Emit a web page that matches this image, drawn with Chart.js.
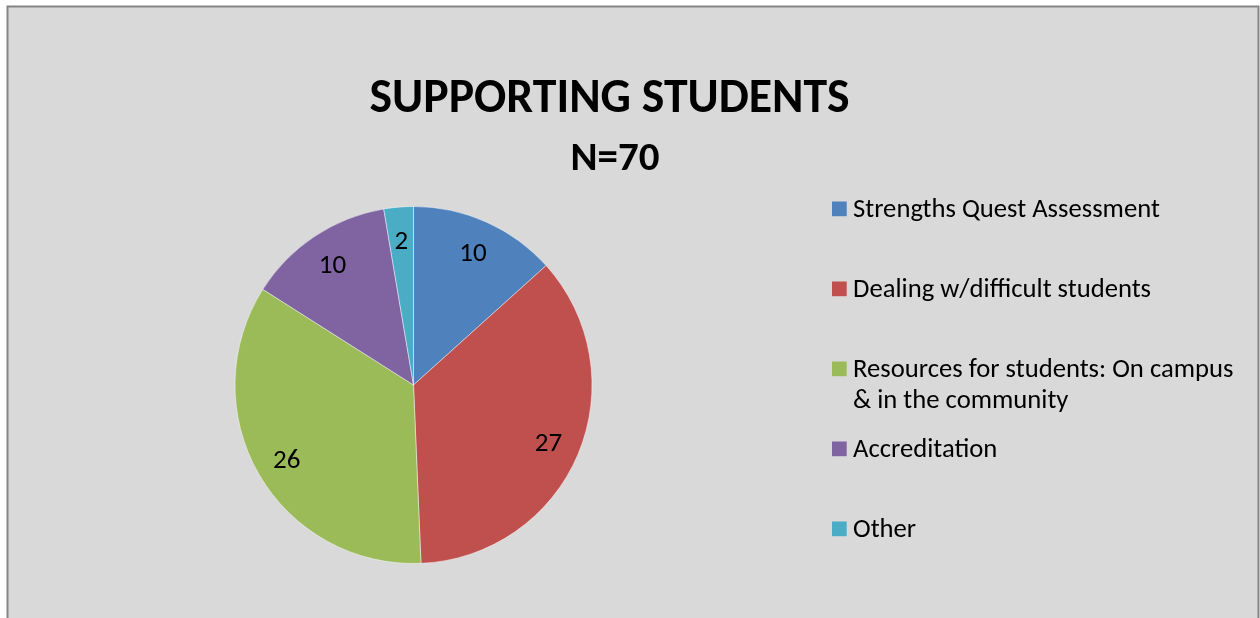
<!DOCTYPE html>
<html>
<head>
<meta charset="utf-8">
<script src="https://cdn.jsdelivr.net/npm/chart.js@4"></script>
<style>
  html, body { margin: 0; padding: 0; background: #ffffff; }
  #wrap { width: 1260px; height: 618px; position: relative; }
</style>
</head>
<body>
<div id="wrap"><canvas id="c" width="1260" height="618"></canvas></div>
<script>
// ---- data ----
const titleText = "SUPPORTING STUDENTS";
const subtitleText = "N=70";
const categories = [
  "Strengths Quest Assessment",
  "Dealing w/difficult students",
  "Resources for students: On campus & in the community",
  "Accreditation",
  "Other"
];
const values = [10, 27, 26, 10, 2];
const sliceColors = ["#4f81bd", "#c0504d", "#9bbb59", "#8064a2", "#4bacc6"];

// ---- helpers ----
const FONT = "Carlito, Lato, 'Liberation Sans', sans-serif";
function fitFont(ctx, text, targetWidth, weight) {
  ctx.font = weight + " 100px " + FONT;
  const w = ctx.measureText(text).width;
  return 100 * targetWidth / w;
}
function wrapText(ctx, text, maxWidth) {
  const words = text.split(" ");
  const lines = [];
  let cur = "";
  for (const w of words) {
    const test = cur ? cur + " " + w : w;
    if (ctx.measureText(test).width > maxWidth && cur) {
      lines.push(cur);
      cur = w;
    } else {
      cur = test;
    }
  }
  if (cur) lines.push(cur);
  return lines;
}

const decorPlugin = {
  id: "decor",
  beforeDraw(chart) {
    const ctx = chart.ctx;
    ctx.save();
    ctx.fillStyle = "#ffffff";
    ctx.fillRect(0, 0, chart.width, chart.height);
    ctx.fillStyle = "#d9d9d9";
    ctx.fillRect(7.5, 6.5, 1251, 640);
    ctx.strokeStyle = "#858585";
    ctx.lineWidth = 2;
    ctx.strokeRect(7.5, 6.5, 1251, 640);
    ctx.restore();
  },
  afterDatasetsDraw(chart) {
    const ctx = chart.ctx;
    const meta = chart.getDatasetMeta(0);
    ctx.save();
    ctx.font = "normal 27px " + FONT;
    ctx.fillStyle = "#000000";
    ctx.textAlign = "center";
    ctx.textBaseline = "middle";
    meta.data.forEach((arc, i) => {
      const p = arc.getProps(["x", "y", "startAngle", "endAngle", "outerRadius"], true);
      const mid = (p.startAngle + p.endAngle) / 2;
      const r = p.outerRadius * 0.82;
      ctx.fillText(String(values[i]), p.x + Math.cos(mid) * r, p.y + Math.sin(mid) * r + 3);
    });
    ctx.restore();
  },
  afterDraw(chart) {
    const ctx = chart.ctx;
    ctx.save();
    ctx.fillStyle = "#000000";
    ctx.textBaseline = "alphabetic";
    ctx.textAlign = "center";
    // title
    let fs = fitFont(ctx, titleText, 480, "bold");
    ctx.font = "bold " + fs + "px " + FONT;
    ctx.fillText(titleText, 609.5, 112);
    fs = fitFont(ctx, subtitleText, 89, "bold");
    ctx.font = "bold " + fs + "px " + FONT;
    ctx.fillText(subtitleText, 615, 170);

    // legend
    ctx.textAlign = "left";
    const lfs = fitFont(ctx, categories[0], 307, "normal");
    ctx.font = "normal " + lfs + "px " + FONT;
    const baseY = 216.5;
    const step = 80;
    const textX = 853;
    categories.forEach((label, i) => {
      const y = baseY + step * i;
      ctx.fillStyle = sliceColors[i];
      ctx.fillRect(832, y - 15, 14.7, 14.7);
      ctx.fillStyle = "#000000";
      const lines = wrapText(ctx, label, 395);
      lines.forEach((ln, j) => ctx.fillText(ln, textX, y + j * 31.5));
    });
    ctx.restore();
  }
};

new Chart(document.getElementById("c"), {
  type: "pie",
  data: {
    labels: categories,
    datasets: [{
      data: values,
      backgroundColor: sliceColors,
      borderColor: "rgba(255,255,255,0.45)",
      borderWidth: 1,
      hoverOffset: 0,
      radius: 178.5
    }]
  },
  options: {
    responsive: false,
    animation: false,
    events: [],
    rotation: 0,
    layout: { padding: { left: 235, right: 668, top: 206.5, bottom: 54.5 } },
    plugins: {
      legend: { display: false },
      title: { display: false },
      tooltip: { enabled: false }
    }
  },
  plugins: [decorPlugin]
});
</script>
</body>
</html>
